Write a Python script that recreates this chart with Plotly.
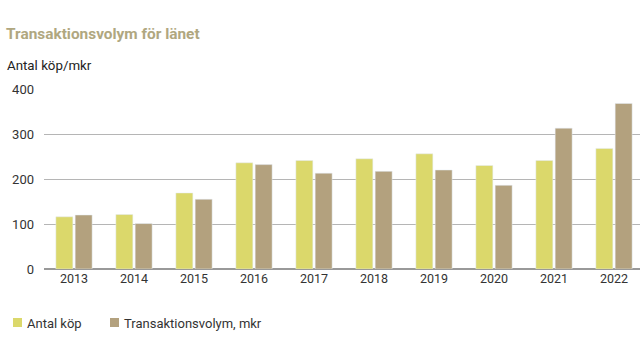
import plotly.graph_objects as go

years = ["2013", "2014", "2015", "2016", "2017", "2018", "2019", "2020", "2021", "2022"]
antal_kop = [116, 121, 169, 236, 241, 245, 256, 230, 241, 268]
transaktionsvolym = [120, 101, 155, 232, 213, 217, 220, 186, 313, 368]
y_ticks = [0, 100, 200, 300, 400]
series_names = ["Antal köp", "Transaktionsvolym, mkr"]

FONT = "Roboto, sans-serif"
C_ANTAL = "#dbd86b"
C_TRANS = "#b3a17e"

fig = go.Figure()
fig.add_trace(go.Bar(x=years, y=antal_kop, name=series_names[0], marker_color=C_ANTAL))
fig.add_trace(go.Bar(x=years, y=transaktionsvolym, name=series_names[1], marker_color=C_TRANS))

W, H = 640, 350
L, T, B = 44, 89, 81
plot_w, plot_h = W - L, H - T - B


def px(xp):
    return (xp - L) / plot_w


def py(yp):
    return (H - B - yp) / plot_h


# custom legend (small squares + labels)
shapes = []
annotations = [dict(text="Antal köp/mkr", xref="paper", yref="paper",
                    x=px(5), xanchor="left", y=py(65), yanchor="middle",
                    showarrow=False, font=dict(family=FONT, size=13.3, color="#222222"))]
for (sx, tx), name, col in zip([(13, 25), (110, 122)], series_names, [C_ANTAL, C_TRANS]):
    shapes.append(dict(type="rect", xref="paper", yref="paper",
                       x0=px(sx), x1=px(sx + 9), y0=py(327), y1=py(318),
                       fillcolor=col, line=dict(width=0)))
    annotations.append(dict(text=name, xref="paper", yref="paper", x=px(tx), xanchor="left",
                            y=py(323), yanchor="middle", showarrow=False,
                            font=dict(family=FONT, size=13, color="#333333")))

fig.update_layout(
    width=W, height=H,
    margin=dict(l=L, r=0, t=T, b=B),
    paper_bgcolor="white", plot_bgcolor="white",
    barmode="group", bargap=0.357, bargroupgap=0.12,
    font=dict(family=FONT, size=13, color="#333333"),
    showlegend=False,
    title=dict(text="<b>Transaktionsvolym för länet</b>", xref="container", yref="container",
               x=6 / W, xanchor="left", y=1 - 34 / H, yanchor="middle",
               font=dict(family=FONT, size=15.4, color="#b0a780")),
    shapes=shapes,
    annotations=annotations,
)
fig.update_xaxes(type="category", range=[-0.5, -0.5 + plot_w / 60], showgrid=False,
                 showline=False, ticks="", tickfont=dict(size=12.5, color="#333333"))
fig.update_yaxes(range=[0, 400], tickvals=y_ticks, showgrid=True, gridcolor="#b5b5b5", gridwidth=1.3,
                 zeroline=True, zerolinecolor="#999999", zerolinewidth=1.5,
                 ticklabelstandoff=9, tickfont=dict(size=13, color="#333333"))
fig.write_html("out.html")
